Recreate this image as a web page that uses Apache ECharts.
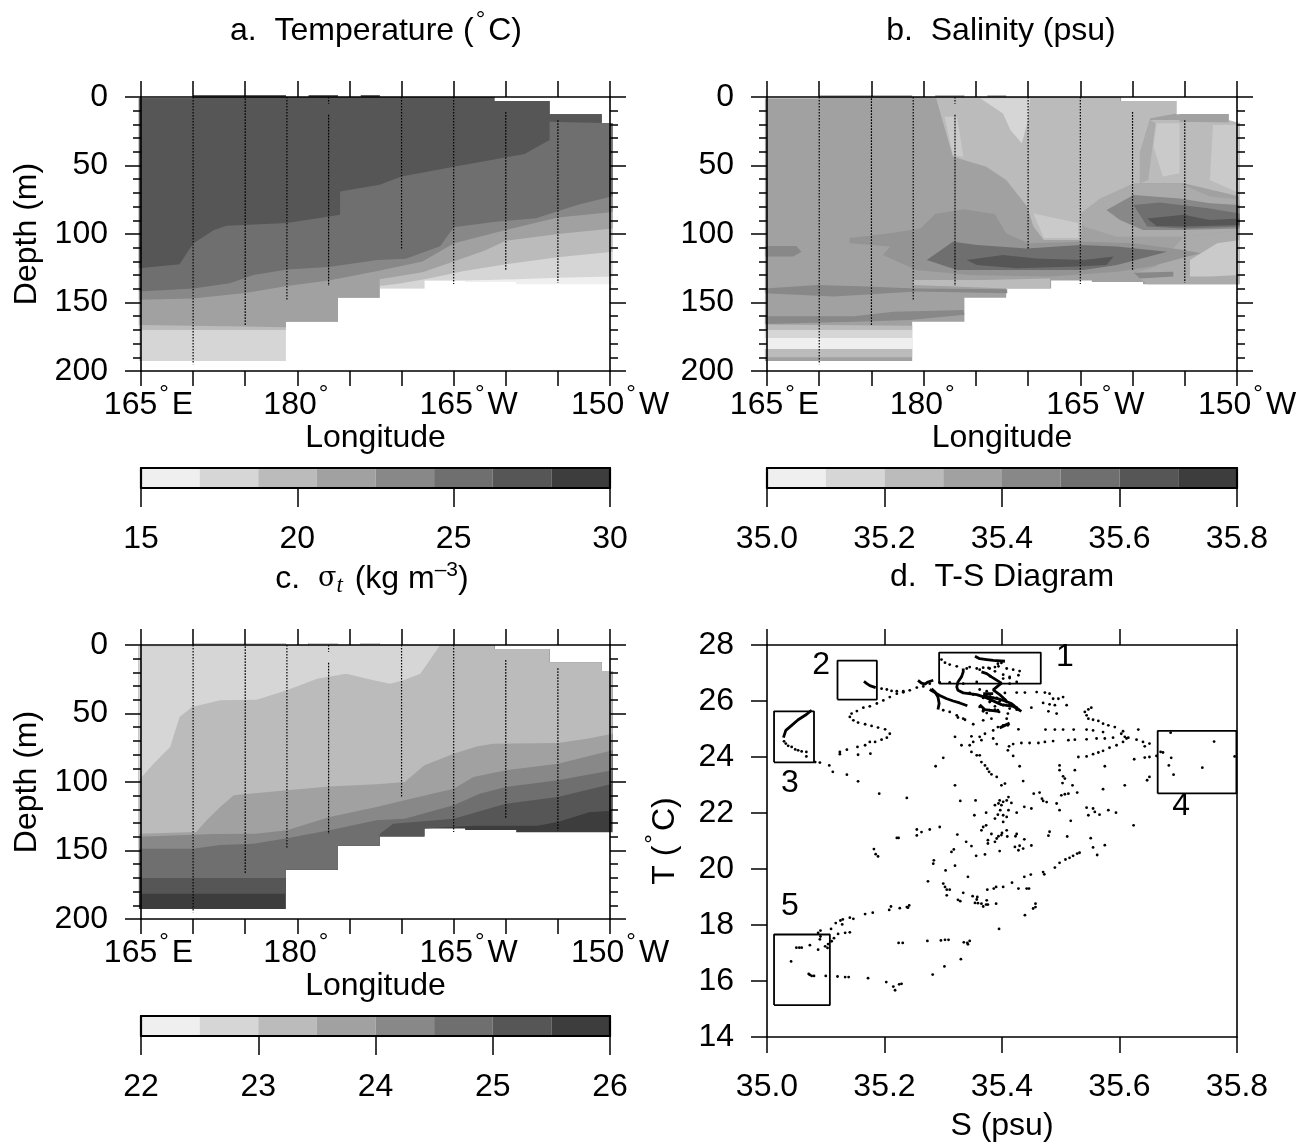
<!DOCTYPE html>
<html><head><meta charset="utf-8">
<style>html,body{margin:0;padding:0;background:#fff}#c{width:1306px;height:1142px}</style>
<script src="https://cdn.jsdelivr.net/npm/echarts@6/dist/echarts.min.js"></script>
</head><body><div id="c"></div>
<script>
// ---------- shared section data: lon (deg E, 180..210 = 180..150W), depth (m)
const sectionTop=[[164.8,1],[170,1],[170,-1.2],[178.9,-1.2],[178.9,0],[181.1,0],[181.1,-1.2],[183.9,-1.2],[183.9,0],[186.1,0],[186.1,-1.2],[187.9,-1.2],[187.9,0],[198.9,0],[198.9,3],[204.2,3],[204.2,12.5],[209.2,12.5],[209.2,19],[210.25,19]];
const sectionBottom=[[210.25,136.7],[201,136.7],[201,135],[196.1,135],[196.1,134],[192.2,134],[192.2,139.7],[187.9,139.7],[187.9,146.5],[183.9,146.5],[183.9,164],[178.9,164],[178.9,192.7],[164.8,192.7]];
const stationSegments=[[170,0,195],[175,1,166.5],[179,0,148],[183,0,5],[183,13,138],[190,0,110.5],[195,0,136.5],[200,11,126.5],[205,17,135.5]];
const greys=['#efefef','#d6d6d6','#bbbbbb','#a1a1a1','#888888','#6f6f6f','#565656','#3d3d3d','#cacaca','#949494','#ababab'];

// ---------- a. temperature: lower boundary of each band
const tempBelow5=[[164.8,192.7],[178.9,192.7],[178.9,164],[183.9,164],[183.9,146.5],[187.9,146.5],[187.9,139.7],[192.2,139.7],[192.2,134],[196.1,134],[201,133],[205,132],[210.25,131]];
const tempBelow4=[[164.8,170],[178.9,170],[178.9,164],[183.9,164],[183.9,146.5],[187.9,146.5],[187.9,138],[190,136],[192.2,133],[196,127],[200,122],[205,117],[210.25,113]];
const tempBelow3=[[164.8,166.5],[175,167.6],[178.9,168],[178.9,164],[183.9,164],[183.9,146.5],[187.9,146.5],[187.9,133],[192,128],[195,120],[198,112],[200,105],[205,100],[210.25,96]];
const tempBelow2=[[164.8,148],[170,147],[175,143],[179,138],[183,134],[187.7,127],[192,120],[195,107],[197,103],[200,97],[205,88],[210.25,84]];
const tempBelow1=[[164.8,142],[170,139.7],[173.5,136],[175.8,130],[179,126],[183,124],[187.7,119],[190.4,118],[193.7,109],[195,95],[199,91],[202.9,88.5],[207,78.5],[210.25,72.5]];
const tempBelow0=[[164.8,125],[168.7,122],[170,107],[172,97],[173.2,94],[179,92],[184.1,86],[184.1,69],[187.9,64],[190,58],[195,51],[201.8,41.6],[204.2,31.4],[204.2,18],[209.2,19]];

// ---------- c. sigma-t: lower boundary of each band
const sigmaBelow5=[[164.8,181.5],[178.9,181.5],[178.9,164],[183.9,164],[183.9,146.5],[187.9,146.5],[187.9,139.7],[192.2,139.7],[192.2,134],[197,132],[203,132],[205,129.2],[208,122],[210.25,121]];
const sigmaBelow4=[[164.8,170],[178.9,170],[178.9,164],[183.9,164],[183.9,146.5],[187.9,146.5],[187.9,138],[189.2,130.4],[195,126.8],[200,115.8],[205,111],[210.25,101.2]];
const sigmaBelow3=[[164.8,148.7],[170,148.7],[172.6,146],[175.8,145],[179,141],[183.1,135.3],[187.6,128],[190.3,126.8],[195,117],[197.5,108.5],[200,103.6],[205,98.8],[210.25,91.5]];
const sigmaBelow2=[[164.8,140],[172,138],[176,137.7],[179,135.3],[183.1,125.5],[187.6,118.2],[190.3,113.4],[195,105],[196.9,96.4],[200,91.5],[205,86.6],[210.25,76.9]];
const sigmaBelow1=[[164.8,137.7],[170.3,136.5],[171.3,128],[172.6,118.2],[173.9,109.7],[179,106],[183.1,103.2],[187.6,101.7],[190.3,100],[192.2,87.8],[195,79.3],[197.2,74],[198.8,72],[205,71.5],[207.8,68.4],[210.25,64.7]];
const sigmaBelow0=[[164.8,98.8],[166.2,86.6],[167.8,74.5],[168.7,52.6],[169.9,45.3],[172.6,40.4],[176.1,40],[179,33],[181.9,24.6],[184.7,21],[187.3,25.8],[188.9,28.2],[190.2,25.8],[191.8,21],[192.7,11.2],[193.7,0]];

// ---------- b. salinity: patches [grey level, outline]
const salLight=[[179,0],[198.8,0],[198.8,3],[204.2,3],[204.2,12],[201.7,15.6],[200.7,41],[200.7,63],[197.2,74],[195.3,85],[195,104.4],[191.5,104.4],[190.5,94.6],[189.9,80],[187.9,60.6],[186,50.9],[184.4,47.2],[182.8,43.6],[181.7,14.4],[181.2,1]];
const salV=[[185.4,1],[190.2,1],[190,16.8],[189.4,33.8],[188.3,24],[187.6,12]];
const salStreak=[[182,14.4],[183.2,14.4],[183.8,43.6],[182.8,42.3]];
const salCore=[[190.5,85],[194.8,92],[194.8,103],[191.5,103]];
const salRight=[[200.7,63],[201.7,16.8],[209.2,16.8],[210.25,19],[210.25,72.7],[204.9,63]];
const salThin=[[204.5,12.4],[209.2,12.4],[209.2,18.7],[204.5,18]];
const salRightPale=[[207.7,20.4],[210.25,20.4],[210.25,70.3],[207.4,60.6]];
const salMidPale=[[202.3,19.2],[204.5,19.2],[204.5,55.7],[202.9,58],[202,36.3]];
const salEdge=[[200.7,41],[201.7,16.8],[202.2,19.2],[201.5,60.6],[200.7,63]];
const salHalo=[[195,85],[196.9,74],[200.1,63],[204.5,63],[207.4,72.7],[210.25,75],[210.25,97],[204.9,102],[198.5,102],[195.3,94.6]];
const salBlobA=[[197.5,82.5],[200.1,71.5],[204.5,74],[207.4,77.6],[210.25,78.8],[210.25,95.9],[204.5,97],[201,97],[198.8,89.8]];
const salBlobB=[[200.1,78.8],[202.6,77],[207.4,81.3],[210.25,85],[210.25,94.6],[204.9,95.9],[201.4,94.6]];
const salBlobC=[[201.4,88.6],[204.9,86],[207.4,89.8],[210.25,88.6],[210.25,93.4],[204.9,94.6],[202.3,94.2]];
const salLow=[[204.9,102],[210.25,97],[210.25,136.7],[201.4,136.7],[200.1,128.7],[202.3,123.8]];
const salLowPale=[[205.5,119],[208.1,106.8],[210.25,104.4],[210.25,130],[207.4,131],[205.5,131]];
const salCenterA=[[172.9,103],[176.8,99.5],[179.7,95.9],[181.1,85.4],[183.8,82],[186.8,85.4],[187.9,99.5],[190,106.8],[195.3,105.6],[200.1,106.8],[204.9,111.7],[206.5,114],[201.7,123.8],[198.5,127.5],[192.1,131],[184.4,130],[179.3,126.3],[176.1,115.3],[176.8,109.2],[172.9,106.8]];
const salCenterB=[[180.3,119],[182.8,105.6],[185.1,108],[189.9,110.5],[195,108],[198.5,109.2],[203.3,113],[198.5,122.6],[195.3,126.3],[188.9,126.3],[183.2,126.3]];
const salCenterC=[[184.1,119],[187.6,115.3],[190.8,117.8],[195.3,119],[198.2,116.5],[197.5,122.6],[194.7,123.8],[188.9,125],[185.1,122.6]];
const salLowDark=[[200.1,128.2],[203.9,127.5],[203.9,131],[200.7,132.4]];
const salLeftSpot=[[164.8,108.8],[167.8,108.8],[168.3,112.9],[167.5,116.5],[164.8,116.5]];
const salStrip=[[179,133.6],[185.7,133.6],[192.1,132.4],[192.1,139.7],[188,139.7],[179,137.2]];
const salBand140=[[164.8,139.7],[169.8,137.2],[174.5,138.4],[179.3,139.7],[188,140.4],[188,143.3],[179.3,142],[171.4,145.7],[164.8,143.3]];
const salBand160=[[164.8,160],[173.3,160],[177.1,156.7],[183.8,155.5],[183.9,159],[178.7,162.8],[173.3,164],[164.8,165.7]];
const salDeepTop=[[164.8,166],[178.9,167],[178.9,170],[164.8,170]];
const salDeepA=[[164.8,170],[178.9,170],[178.9,175.5],[164.8,175.5]];
const salDeepB=[[164.8,175.5],[178.9,175.5],[178.9,184],[164.8,184]];
const salDeepC=[[164.8,184],[178.9,184],[178.9,190],[164.8,190]];

// ---------- colour bars
const tempBarEdges=[15,16.875,18.75,20.625,22.5,24.375,26.25,28.125,30];
const salBarEdges=[35,35.1,35.2,35.3,35.4,35.5,35.6,35.7,35.8];
const sigmaBarEdges=[22,22.5,23,23.5,24,24.5,25,25.5,26];

// ---------- d. T-S diagram: [S, T]
const tsBoxes=[[35.293,35.466,26.62,27.73],[35.120,35.187,26.05,27.44],[35.012,35.080,23.81,25.63],[35.665,35.799,22.70,24.93],[35.012,35.107,15.14,17.66]];
const tsBoxNumbers=[['1',35.507,27.57],['2',35.092,27.29],['3',35.039,23.07],['4',35.705,22.25],['5',35.039,18.68]];
const tsTraces=[
 [[35.165,26.70],[35.170,26.62],[35.175,26.55],[35.185,26.48]],
 [[35.257,26.74],[35.263,26.64],[35.269,26.60],[35.274,26.68],[35.283,26.74]],
 [[35.334,27.16],[35.334,27.04],[35.331,26.86],[35.325,26.68],[35.323,26.50],[35.325,26.38],[35.334,26.29],[35.357,26.23],[35.374,26.11],[35.399,25.87],[35.419,25.81],[35.433,25.63]],
 [[35.368,26.20],[35.379,26.14],[35.394,26.08],[35.405,26.00],[35.416,25.91],[35.430,25.67]],
 [[35.354,27.60],[35.362,27.51],[35.374,27.48],[35.385,27.45],[35.405,27.42]],
 [[35.365,27.04],[35.374,26.98],[35.382,26.86],[35.399,26.64],[35.385,26.40],[35.396,26.23],[35.408,25.99]],
 [[35.280,26.44],[35.286,26.32],[35.291,26.14],[35.293,25.91],[35.291,25.70]],
 [[35.277,26.41],[35.294,26.20],[35.306,26.08],[35.317,26.00],[35.328,25.93],[35.341,25.83]],
 [[35.076,25.67],[35.065,25.49],[35.053,25.33],[35.042,25.13],[35.032,24.95],[35.028,24.69]],
 [[35.368,26.26],[35.385,26.26]],
 [[35.362,25.87],[35.371,25.69],[35.394,25.63]],
 [[35.396,25.04],[35.413,25.21]]
];
const tsBox3Dots=[[35.029,24.56],[35.032,24.48],[35.036,24.40],[35.042,24.36],[35.048,24.27],[35.053,24.24],[35.059,24.20],[35.067,24.18],[35.067,24.02],[35.082,23.82],[35.090,23.80],[35.106,23.70],[35.112,23.47],[35.136,23.37],[35.155,23.13],[35.191,22.69],[35.238,22.54]];
const tsCurve2Dots=[[35.195,26.44],[35.204,26.41],[35.212,26.36],[35.221,26.35],[35.232,26.35],[35.243,26.38],[35.255,26.48],[35.266,26.52],[35.277,26.62],[35.232,26.31],[35.221,26.26],[35.209,26.14],[35.198,26.02],[35.187,25.91],[35.175,25.81],[35.164,25.76],[35.153,25.64],[35.144,25.55],[35.141,25.43],[35.147,25.31],[35.155,25.23],[35.167,25.17],[35.178,25.11],[35.189,25.05],[35.201,24.99],[35.209,24.83],[35.204,24.69],[35.195,24.62],[35.184,24.54],[35.175,24.54],[35.167,24.42],[35.154,24.36],[35.136,24.26],[35.124,24.18],[35.124,24.10],[35.155,24.08],[35.176,24.12]];
const tsBox1Dots=[[35.297,27.48],[35.303,27.37],[35.311,27.30],[35.323,27.24],[35.393,27.33],[35.388,27.21],[35.379,27.16],[35.368,27.19],[35.357,27.16],[35.345,27.21],[35.340,27.16],[35.408,27.16],[35.419,27.12],[35.430,27.07],[35.428,26.92],[35.413,26.86],[35.402,26.80],[35.425,26.68],[35.413,26.62],[35.357,26.68],[35.311,26.66],[35.294,26.66],[35.334,26.62],[35.362,27.12],[35.377,27.18],[35.388,27.06],[35.394,27.24],[35.399,27.36],[35.380,26.88],[35.402,26.94],[35.413,26.82]];
const tsClusterDots=[[35.362,26.41],[35.374,26.35],[35.380,26.23],[35.391,26.11],[35.405,26.05],[35.413,25.87],[35.425,25.69],[35.368,25.63],[35.374,25.57],[35.385,26.11],[35.396,25.99],[35.351,26.23],[35.345,26.29],[35.368,26.11],[35.380,25.99],[35.388,25.81],[35.405,26.29]];
const tsUpperDots=[[35.425,26.30],[35.439,26.30],[35.459,26.32],[35.473,26.30],[35.481,26.26],[35.487,26.08],[35.470,25.93],[35.481,25.88],[35.496,26.08],[35.504,26.14],[35.490,25.85],[35.510,25.85],[35.450,25.76],[35.479,25.63],[35.493,25.55],[35.410,25.55],[35.408,25.37],[35.410,25.13],[35.402,25.13],[35.393,25.07],[35.428,24.99],[35.385,24.95],[35.371,24.83],[35.368,25.31],[35.382,25.37],[35.351,25.17],[35.334,25.37],[35.320,24.72],[35.348,24.74],[35.362,24.72],[35.365,24.60],[35.385,24.66],[35.331,24.42],[35.345,24.42],[35.351,24.54],[35.391,24.46],[35.300,25.67],[35.311,25.61],[35.323,25.49],[35.325,25.41],[35.337,25.33],[35.362,25.79],[35.368,25.67],[35.379,25.67],[35.395,25.61],[35.388,25.69],[35.393,25.67],[35.408,25.96],[35.419,25.85],[35.425,25.76],[35.402,25.85],[35.413,25.73],[35.379,25.96]];
const tsRightDots=[[35.552,25.76],[35.547,25.70],[35.541,25.61],[35.544,25.49],[35.547,25.37],[35.555,25.33],[35.564,25.29],[35.572,25.19],[35.581,25.13],[35.592,25.07],[35.632,24.98],[35.606,24.92],[35.572,24.89],[35.474,24.98],[35.490,24.98],[35.504,24.98],[35.522,24.98],[35.544,24.98],[35.555,24.95],[35.609,24.72],[35.615,24.69],[35.603,24.83],[35.589,24.69],[35.575,24.66],[35.561,24.66],[35.544,24.63],[35.524,24.62],[35.513,24.60],[35.487,24.57],[35.473,24.54],[35.462,24.50],[35.447,24.50],[35.433,24.50],[35.419,24.46],[35.412,24.38],[35.410,24.24],[35.419,24.04],[35.612,24.66],[35.606,24.54],[35.595,24.42],[35.583,24.33],[35.572,24.22],[35.564,24.16],[35.555,24.10],[35.544,24.02],[35.530,24.00],[35.629,24.62],[35.640,24.54],[35.643,24.38],[35.651,24.48]];
const tsBox4Dots=[[35.687,24.87],[35.761,24.55],[35.796,24.02],[35.674,24.16],[35.670,24.18],[35.663,24.04],[35.651,24.00],[35.643,23.98],[35.625,23.92],[35.688,23.97],[35.684,23.70],[35.741,23.62],[35.692,23.37],[35.651,23.29],[35.647,23.17],[35.609,22.99],[35.572,22.85]];
const tsMidDots=[[35.362,24.06],[35.365,23.82],[35.371,23.70],[35.375,23.58],[35.378,23.47],[35.382,23.38],[35.391,23.29],[35.405,23.05],[35.399,22.99],[35.430,23.67],[35.436,23.14],[35.300,23.97],[35.287,23.67],[35.320,22.99],[35.348,24.18],[35.357,24.06],[35.498,23.70],[35.498,23.53],[35.524,23.53],[35.575,23.67],[35.504,23.31],[35.507,23.23],[35.503,23.07],[35.520,22.99],[35.507,22.67],[35.501,22.63],[35.513,22.69],[35.528,22.73],[35.454,22.69],[35.464,22.73],[35.468,22.51],[35.476,22.39],[35.470,22.43],[35.493,22.34],[35.498,22.10],[35.544,22.19],[35.555,22.16],[35.558,22.04],[35.566,21.94],[35.581,22.10],[35.594,22.01],[35.547,21.92],[35.517,21.72],[35.624,21.56],[35.450,22.16],[35.438,22.22]];
const tsCenterDots=[[35.411,22.57],[35.408,22.45],[35.396,22.45],[35.388,22.28],[35.399,22.28],[35.416,22.36],[35.397,22.10],[35.411,22.10],[35.425,22.01],[35.373,22.01],[35.353,21.92],[35.388,21.80],[35.393,21.94],[35.402,21.92],[35.408,21.86],[35.402,21.68],[35.329,22.43],[35.355,22.45],[35.373,21.56],[35.368,21.50],[35.365,21.38],[35.408,21.38],[35.394,22.34],[35.402,22.40],[35.255,21.41],[35.263,21.32],[35.255,21.20],[35.277,21.41],[35.294,21.50],[35.221,21.11],[35.224,21.11]];
const tsLowerDots=[[35.182,20.71],[35.185,20.53],[35.189,20.45],[35.324,21.23],[35.339,20.97],[35.348,20.82],[35.356,20.47],[35.371,20.52],[35.314,20.61],[35.318,20.70],[35.284,20.31],[35.283,20.19],[35.320,20.12],[35.304,19.95],[35.342,19.72],[35.274,19.56],[35.300,19.48],[35.303,19.36],[35.306,19.26],[35.311,19.26],[35.306,19.06],[35.334,19.15],[35.325,18.90],[35.329,18.85],[35.350,19.03],[35.358,19.00],[35.357,18.91],[35.354,18.79],[35.359,18.78],[35.365,18.76],[35.368,18.66],[35.374,18.88],[35.373,18.73],[35.376,18.73],[35.390,18.76],[35.375,19.26],[35.386,19.30],[35.390,19.36],[35.402,19.36],[35.417,19.51],[35.428,19.30],[35.442,19.30],[35.446,19.30],[35.438,19.72],[35.449,19.80],[35.470,19.89],[35.472,19.81],[35.490,20.05],[35.498,20.22],[35.508,20.34],[35.515,20.40],[35.521,20.47],[35.528,20.55],[35.532,20.58],[35.562,20.50],[35.555,20.77],[35.575,20.85],[35.551,21.10],[35.479,21.19],[35.481,21.33],[35.511,21.16],[35.422,20.79],[35.428,20.67],[35.436,20.73],[35.430,20.83],[35.450,20.84],[35.438,21.06],[35.423,21.17],[35.425,21.25],[35.409,21.16],[35.400,21.29],[35.396,20.64],[35.388,20.97],[35.376,21.03],[35.376,20.91],[35.391,21.09],[35.382,21.25],[35.399,21.21],[35.394,21.17]];
const tsDeepDots=[[35.242,18.70],[35.240,18.62],[35.238,18.64],[35.226,18.60],[35.211,18.66],[35.208,18.54],[35.180,18.44],[35.167,18.39],[35.147,18.22],[35.141,18.26],[35.129,18.20],[35.125,18.16],[35.128,18.02],[35.117,18.07],[35.109,17.86],[35.091,17.80],[35.087,17.72],[35.091,17.59],[35.090,17.49],[35.141,17.74],[35.133,17.72],[35.121,17.68],[35.114,17.53],[35.110,17.42],[35.104,17.32],[35.103,17.18],[35.099,17.24],[35.087,17.12],[35.073,17.28],[35.059,17.19],[35.055,17.19],[35.050,17.19],[35.041,16.70],[35.071,16.25],[35.073,16.22],[35.076,16.18],[35.080,16.18],[35.100,16.18],[35.120,16.16],[35.133,16.14],[35.139,16.14],[35.172,16.10],[35.203,15.96],[35.215,15.80],[35.218,15.67],[35.225,15.88],[35.229,15.90],[35.282,16.23],[35.302,16.52],[35.330,16.78],[35.395,17.86],[35.439,18.35],[35.453,18.59],[35.457,18.64],[35.457,18.76],[35.224,17.36],[35.231,17.36],[35.273,17.43],[35.296,17.45],[35.303,17.47],[35.309,17.47],[35.335,17.38],[35.341,17.36],[35.342,17.31],[35.345,17.43]];
const tsDotGroups=[tsBox3Dots,tsCurve2Dots,tsBox1Dots,tsClusterDots,tsUpperDots,tsRightDots,tsBox4Dots,tsMidDots,tsCenterDots,tsLowerDots,tsDeepDots];

// ---------- axis tick labels: digits, hemisphere, left padding that keeps the digits over the tick
const lonLabels={165:['165','E','padA'],180:['180','',''],195:['165','W','padC'],210:['150','W','padB']};

// ---------- build
const FONT='"Liberation Sans",Arial,sans-serif', FS=32;
const outline=sectionTop.concat(sectionBottom);
const above=c=>{const e=c[c.length-1][0];return c.concat(sectionTop.filter(p=>p[0]<=e).reverse());};
const tempPatches=[[0,outline],[1,above(tempBelow5)],[2,above(tempBelow4)],[3,above(tempBelow3)],[4,above(tempBelow2)],[5,above(tempBelow1)],[6,above(tempBelow0)]];
const sigmaPatches=[[7,outline],[6,above(sigmaBelow5)],[5,above(sigmaBelow4)],[4,above(sigmaBelow3)],[3,above(sigmaBelow2)],[2,above(sigmaBelow1)],[1,above(sigmaBelow0)]];
const salPatches=[[3,outline],[2,salLight],[1,salV],[8,salStreak],[8,salCore],[2,salRight],[3,salThin],[8,salRightPale],[8,salMidPale],[10,salEdge],[10,salLow],[8,salLowPale],[10,salHalo],[4,salBlobA],[5,salBlobB],[6,salBlobC],[9,salCenterA],[5,salCenterB],[6,salCenterC],[4,salLowDark],[4,salLeftSpot],[2,salStrip],[4,salBand140],[4,salBand160],[2,salDeepTop],[1,salDeepA],[0,salDeepB],[2,salDeepC]];

const grid=[],xAxis=[],yAxis=[],series=[];
const axisLine={show:true,onZero:false,lineStyle:{color:'#000',width:1.6}};
const tick=(len)=>({show:true,length:len,lineStyle:{color:'#000',width:1.5}});
const labelStyle={fontFamily:FONT,fontSize:FS,color:'#000'};
const rawRich={deg:{fontFamily:FONT,fontSize:24,color:'#000',padding:[0,3,22,2]},
  big:{fontFamily:FONT,fontSize:FS,color:'#000'},
  sup:{fontFamily:FONT,fontSize:21,color:'#000',padding:[0,0,18,0]},
  sub:{fontFamily:'"Liberation Serif"',fontStyle:'italic',fontSize:23,color:'#000',padding:[13,3,0,0]},
  sig:{fontFamily:'"DejaVu Serif","Liberation Serif"',fontSize:27,color:'#000'},
  padA:{width:15},padB:{width:20},padC:{width:30}};

function polyRender(patches){return (params,api)=>{const [lvl,pts]=patches[api.value(2)];
  return {type:'polygon',shape:{points:pts.map(p=>api.coord(p))},style:{fill:greys[lvl],stroke:null}};};}
function polySeries(patches,xi,yi){series.push({type:'custom',xAxisIndex:xi,yAxisIndex:yi,silent:true,clip:false,animation:false,z:1,
  encode:{x:0,y:1},renderItem:polyRender(patches),data:patches.map((p,i)=>[p[1][0][0],p[1][0][1],i])});}
const G=(left,top,width,height)=>({left,top,width,height,show:false,containLabel:false,outerBoundsMode:'none'});

function section(left,top,w,h,patches,depthName){
  const gi=grid.length;grid.push(G(left,top,w,h));
  const xi=xAxis.length,yi=yAxis.length;
  xAxis.push({gridIndex:gi,z:10,type:'value',min:165,max:210,interval:5,position:'bottom',splitLine:{show:false},axisLine,axisTick:tick(15),
    name:'Longitude',nameLocation:'middle',nameGap:47,nameTextStyle:labelStyle,
    axisLabel:{show:true,margin:11,hideOverlap:false,showMinLabel:true,showMaxLabel:true,interval:0,...labelStyle,rich:rawRich,
      formatter:v=>{const l=lonLabels[v];if(!l)return '';return (l[2]?`{${l[2]}|}`:'')+`{big|${l[0]}}{deg|°}`+(l[1]?`{big|${l[1]}}`:'');}}});
  xAxis.push({gridIndex:gi,z:10,type:'value',min:165,max:210,interval:5,position:'top',splitLine:{show:false},axisLine,axisTick:tick(16),axisLabel:{show:false}});
  yAxis.push({gridIndex:gi,z:10,type:'value',min:0,max:200,interval:50,inverse:true,position:'left',splitLine:{show:false},axisLine,axisTick:tick(16),
    minorTick:{show:true,splitNumber:5,length:8,lineStyle:{color:'#000',width:1.5}},minorSplitLine:{show:false},
    name:depthName?'Depth (m)':'',nameLocation:'middle',nameRotate:90,nameGap:98,nameTextStyle:labelStyle,
    axisLabel:{margin:33,hideOverlap:false,...labelStyle}});
  yAxis.push({gridIndex:gi,z:10,type:'value',min:0,max:200,interval:50,inverse:true,position:'right',splitLine:{show:false},axisLine,axisTick:tick(16),
    minorTick:{show:true,splitNumber:5,length:8,lineStyle:{color:'#000',width:1.5}},axisLabel:{show:false}});
  polySeries(patches,xi,yi);
  stationSegments.forEach(s=>series.push({type:'line',xAxisIndex:xi,yAxisIndex:yi,silent:true,showSymbol:false,animation:false,clip:false,z:5,
    lineStyle:{color:'#000',width:1.2,type:[1.6,1.4]},data:[[s[0],s[1]],[s[0],s[2]]]}));
}
function colorbar(left,top,w,edges,interval,fmt){
  const gi=grid.length;grid.push(G(left,top,w,20));
  const xi=xAxis.length,yi=yAxis.length;
  const lo=edges[0],hi=edges[edges.length-1];
  const thick={...axisLine,lineStyle:{color:'#000',width:2.2}};
  xAxis.push({gridIndex:gi,z:10,type:'value',min:lo,max:hi,interval,position:'bottom',splitLine:{show:false},axisLine:thick,axisTick:tick(19),
    axisLabel:{margin:35,hideOverlap:false,...labelStyle,formatter:fmt}});
  xAxis.push({gridIndex:gi,z:10,type:'value',min:lo,max:hi,position:'top',splitLine:{show:false},axisLine:thick,axisTick:{show:false},axisLabel:{show:false}});
  yAxis.push({gridIndex:gi,z:10,type:'value',min:0,max:1,position:'left',splitLine:{show:false},axisLine:thick,axisTick:{show:false},axisLabel:{show:false}});
  yAxis.push({gridIndex:gi,z:10,type:'value',min:0,max:1,position:'right',splitLine:{show:false},axisLine:thick,axisTick:{show:false},axisLabel:{show:false}});
  const cells=greys.slice(0,8).map((g,i)=>[i,[[edges[i],0],[edges[i+1],0],[edges[i+1],1],[edges[i],1]]]);
  polySeries(cells,xi,yi);
}
section(141,97,469,274,tempPatches,true);
section(767,97,470,274,salPatches,false);
section(141,645,469,274,sigmaPatches,true);
colorbar(141,468,469,tempBarEdges,5,v=>String(v));
colorbar(767,468,470,salBarEdges,0.2,v=>v.toFixed(1));
colorbar(141,1016,469,sigmaBarEdges,1,v=>String(v));

// T-S panel
{const gi=grid.length;grid.push(G(767,645,470,392));
 const xi=xAxis.length,yi=yAxis.length;
 xAxis.push({gridIndex:gi,type:'value',min:35,max:35.8,interval:0.2,position:'bottom',splitLine:{show:false},axisLine,axisTick:tick(16),
  name:'S (psu)',nameLocation:'middle',nameGap:73,nameTextStyle:labelStyle,axisLabel:{margin:34,hideOverlap:false,...labelStyle,formatter:v=>v.toFixed(1)}});
 xAxis.push({gridIndex:gi,type:'value',min:35,max:35.8,interval:0.2,position:'top',splitLine:{show:false},axisLine,axisTick:tick(16),axisLabel:{show:false}});
 yAxis.push({gridIndex:gi,type:'value',min:14,max:28,interval:2,position:'left',splitLine:{show:false},axisLine,axisTick:tick(16),
  name:'{big|T (}{deg|°}{big|C)}',nameLocation:'middle',nameRotate:90,nameGap:79,nameTextStyle:{...labelStyle,rich:rawRich},axisLabel:{margin:33,hideOverlap:false,...labelStyle}});
 yAxis.push({gridIndex:gi,type:'value',min:14,max:28,interval:2,position:'right',splitLine:{show:false},axisLine,axisTick:{show:false},axisLabel:{show:false}});
 tsBoxes.forEach(b=>series.push({type:'line',xAxisIndex:xi,yAxisIndex:yi,silent:true,showSymbol:false,animation:false,
   lineStyle:{color:'#000',width:1.8},data:[[b[0],b[2]],[b[1],b[2]],[b[1],b[3]],[b[0],b[3]],[b[0],b[2]]]}));
 tsTraces.forEach(t=>series.push({type:'line',xAxisIndex:xi,yAxisIndex:yi,silent:true,showSymbol:false,animation:false,
   lineStyle:{color:'#000',width:2.8},data:t}));
 tsDotGroups.forEach(d=>series.push({type:'scatter',xAxisIndex:xi,yAxisIndex:yi,silent:true,animation:false,symbolSize:2.8,itemStyle:{color:'#000',opacity:1},data:d}));
 series.push({type:'scatter',xAxisIndex:xi,yAxisIndex:yi,silent:true,animation:false,symbolSize:0,itemStyle:{opacity:1},
   data:tsBoxNumbers.map(n=>({value:[n[1],n[2]],label:{show:true,position:'inside',formatter:n[0],...labelStyle}}))});
}
const title=[
 {text:'a.  Temperature ({deg|°}C)',x:371,y:26},
 {text:'b.  Salinity (psu)',x:996,y:26},
 {text:'c.  {sig|σ}{sub|t} (kg m{sup|–3})',x:367,y:574},
 {text:'d.  T-S Diagram',x:997,y:572}
].map(t=>({text:t.text,left:t.x,top:t.y,textAlign:'center',textVerticalAlign:'middle',textStyle:{...labelStyle,fontWeight:'normal',rich:rawRich}}));

const chart=echarts.init(document.getElementById('c'),null,{renderer:'canvas'});
chart.setOption({animation:false,backgroundColor:'#fff',title,grid,xAxis,yAxis,series});
</script></body></html>
